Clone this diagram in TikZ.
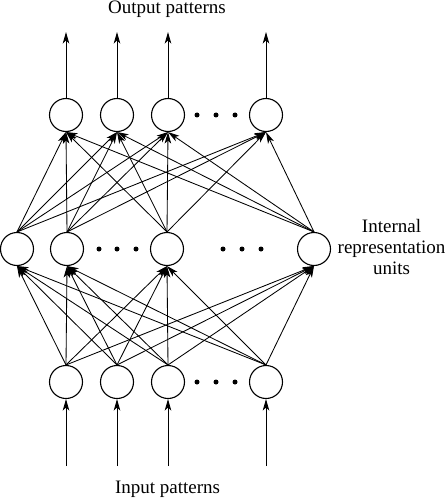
\documentclass[tikz,border=0pt]{standalone}
\usepackage{fontspec}
\setmainfont{Liberation Serif}
\usetikzlibrary{arrows.meta}
\begin{document}
\begin{tikzpicture}[x=1pt,y=-1pt,
  unit/.style={circle,draw,line width=1.1pt,minimum size=33pt,inner sep=0pt},
  arr/.style={line width=0.85pt,-{Stealth[length=11.5pt,width=6.5pt,inset=3pt]}},
  dotn/.style={circle,fill,inner sep=0pt,minimum size=5pt},
  lab/.style={font=\fontsize{19}{21}\selectfont,anchor=base,inner sep=0pt}]
\useasboundingbox (0,0) rectangle (447,500);
% output layer
\node[unit] (o1) at (66,115) {};
\node[unit] (o2) at (117,115) {};
\node[unit] (o3) at (168,115) {};
\node[unit] (o4) at (266,115) {};
% hidden layer
\node[unit] (h1) at (17,249) {};
\node[unit] (h2) at (67,249) {};
\node[unit] (h3) at (167,249) {};
\node[unit] (h4) at (314,249) {};
% input layer
\node[unit] (i1) at (66,382) {};
\node[unit] (i2) at (117,382) {};
\node[unit] (i3) at (168,382) {};
\node[unit] (i4) at (266,382) {};
% dots
\foreach \x/\n in {197/a,216/b,235/c}{
  \node[dotn] (od\n) at (\x,115) {};
  \node[dotn] (id\n) at (\x,382) {};
}
\foreach \x/\n in {99/a,117/b,136/c,223/d,242/e,261/f}{
  \node[dotn] (hd\n) at (\x,249) {};
}
% output / input arrows
\foreach \k/\x in {1/66,2/117,3/168,4/266}{
  \coordinate (ot\k) at (\x,32);
  \coordinate (ib\k) at (\x,466);
  \draw[arr] (o\k.north) -- (ot\k);
  \draw[arr] (ib\k) -- (i\k.south);
}
% full connections
\foreach \a in {1,2,3,4}{
  \foreach \b in {1,2,3,4}{
    \draw[arr] (i\a.north) -- (h\b.south);
    \draw[arr] (h\a.north) -- (o\b.south);
  }
}
% labels
\node[lab] (tout) at (167,14) {Output patterns};
\node[lab] (tin) at (167.5,493) {Input patterns};
\node[lab] (t1) at (391.5,232) {Internal};
\node[lab] (t2) at (391.5,253) {representation};
\node[lab] (t3) at (391.5,274) {units};
\end{tikzpicture}
\end{document}
